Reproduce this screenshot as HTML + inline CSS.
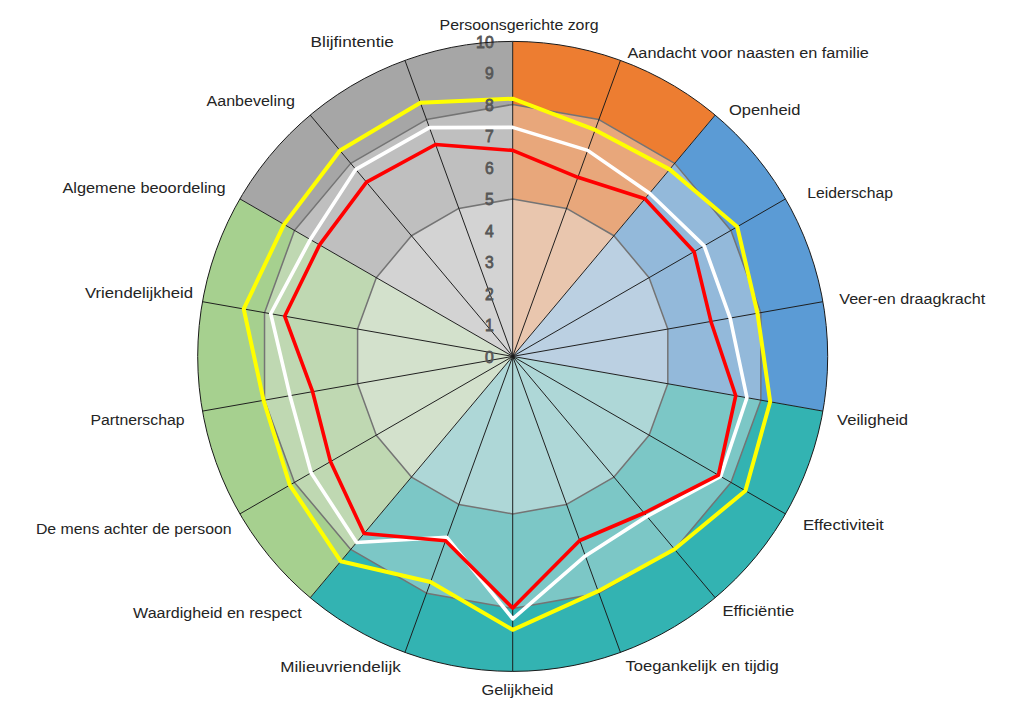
<!DOCTYPE html>
<html><head><meta charset="utf-8"><title>Radar</title>
<style>
html,body{margin:0;padding:0;background:#fff;}
body{width:1017px;height:708px;overflow:hidden;font-family:"Liberation Sans",sans-serif;}
svg{display:block;}
.lab{font-family:"Liberation Sans",sans-serif;font-size:15.3px;fill:#242424;}
.num{font-family:"Liberation Sans",sans-serif;font-size:17.1px;font-weight:normal;fill:#575757;stroke:#575757;stroke-width:0.8px;text-anchor:end;}
</style></head><body>
<svg width="1017" height="708" viewBox="0 0 1017 708">
<rect width="1017" height="708" fill="#ffffff"/>
<path d="M512.7 356.4 L512.7 41.4 A315 315 0 0 1 715.18 115.1 Z" fill="#ED7D31"/>
<path d="M512.7 356.4 L715.18 115.1 A315 315 0 0 1 822.91 411.1 Z" fill="#5B9BD5"/>
<path d="M512.7 356.4 L822.91 411.1 A315 315 0 0 1 310.22 597.7 Z" fill="#33B3B2"/>
<path d="M512.7 356.4 L310.22 597.7 A315 315 0 0 1 239.9 198.9 Z" fill="#A6D08F"/>
<path d="M512.7 356.4 L239.9 198.9 A315 315 0 0 1 512.7 41.4 Z" fill="#A6A6A6"/>
<polygon points="512.7,104.4 598.89,119.6 674.68,163.36 730.94,230.4 760.87,312.64 760.87,400.16 730.94,482.4 674.68,549.44 598.89,593.2 512.7,608.4 426.51,593.2 350.72,549.44 294.46,482.4 264.53,400.16 264.53,312.64 294.46,230.4 350.72,163.36 426.51,119.6" fill="rgba(227,227,227,0.42)" stroke="#747474" stroke-width="1.5" stroke-linejoin="round"/>
<polygon points="512.7,198.9 566.57,208.4 613.94,235.75 649.1,277.65 667.81,329.05 667.81,383.75 649.1,435.15 613.94,477.05 566.57,504.4 512.7,513.9 458.83,504.4 411.46,477.05 376.3,435.15 357.59,383.75 357.59,329.05 376.3,277.65 411.46,235.75 458.83,208.4" fill="rgba(236,236,236,0.4545)" stroke="#747474" stroke-width="1.5" stroke-linejoin="round"/>
<path d="M512.7 356.4L512.7 41.4M512.7 356.4L620.44 60.4M512.7 356.4L715.18 115.1M512.7 356.4L785.5 198.9M512.7 356.4L822.91 301.7M512.7 356.4L822.91 411.1M512.7 356.4L785.5 513.9M512.7 356.4L715.18 597.7M512.7 356.4L620.44 652.4M512.7 356.4L512.7 671.4M512.7 356.4L404.96 652.4M512.7 356.4L310.22 597.7M512.7 356.4L239.9 513.9M512.7 356.4L202.49 411.1M512.7 356.4L202.49 301.7M512.7 356.4L239.9 198.9M512.7 356.4L310.22 115.1M512.7 356.4L404.96 60.4" stroke="#1c1c1c" stroke-width="0.98" fill="none"/>
<polygon points="512.7,98.73 595.12,129.96 669.62,169.39 737.21,226.78 757.46,313.24 770.18,401.8 745.4,490.75 674.48,549.2 598.13,591.13 512.7,629.82 430.6,581.95 340.8,561.27 289.82,485.08 263.6,400.32 243.74,308.98 284.1,224.41 339.99,150.57 420.37,102.73" fill="none" stroke="#FFFF00" stroke-width="4.0" stroke-linejoin="round"/>
<polygon points="512.7,127.39 587.68,150.38 649.58,193.28 704.2,245.83 730.16,318.06 746.91,397.7 720.57,476.41 646.94,516.38 585.31,555.91 512.7,618.79 446.87,537.26 356.59,542.45 311.1,472.79 289.97,395.67 270.73,313.73 310.28,239.53 355.78,169.39 429.42,127.59" fill="none" stroke="#FFFFFF" stroke-width="3.6" stroke-linejoin="round"/>
<polygon points="512.7,150.39 577.88,177.32 644.92,198.83 694.11,251.66 710.93,321.45 735.74,395.73 718.39,475.15 644.11,513.01 579.71,540.51 512.7,608.09 445.58,540.81 364.08,533.52 330.47,461.61 312.61,391.68 284.69,316.2 319.56,244.89 366.51,182.18 435.56,144.46" fill="none" stroke="#FF0000" stroke-width="3.6" stroke-linejoin="round"/>
<text class="num" transform="translate(493.8,362.9) scale(0.92,1)">0</text>
<text class="num" transform="translate(493.8,331.4) scale(0.92,1)">1</text>
<text class="num" transform="translate(493.8,299.9) scale(0.92,1)">2</text>
<text class="num" transform="translate(493.8,268.4) scale(0.92,1)">3</text>
<text class="num" transform="translate(493.8,236.9) scale(0.92,1)">4</text>
<text class="num" transform="translate(493.8,205.4) scale(0.92,1)">5</text>
<text class="num" transform="translate(493.8,173.9) scale(0.92,1)">6</text>
<text class="num" transform="translate(493.8,142.4) scale(0.92,1)">7</text>
<text class="num" transform="translate(493.8,110.9) scale(0.92,1)">8</text>
<text class="num" transform="translate(493.8,79.4) scale(0.92,1)">9</text>
<text class="num" transform="translate(493.8,47.9) scale(0.93,1)">10</text>
<circle cx="512.7" cy="356.4" r="315" fill="none" stroke="#1a1a1a" stroke-width="1"/>
<text class="lab" x="439.6" y="29.6" textLength="159" lengthAdjust="spacingAndGlyphs">Persoonsgerichte zorg</text>
<text class="lab" x="627.5" y="57.6" textLength="241.3" lengthAdjust="spacingAndGlyphs">Aandacht voor naasten en familie</text>
<text class="lab" x="728.9" y="115.2" textLength="71.5" lengthAdjust="spacingAndGlyphs">Openheid</text>
<text class="lab" x="807.3" y="197.7" textLength="85.6" lengthAdjust="spacingAndGlyphs">Leiderschap</text>
<text class="lab" x="839.3" y="304.1" textLength="146" lengthAdjust="spacingAndGlyphs">Veer-en draagkracht</text>
<text class="lab" x="837" y="425.3" textLength="71.1" lengthAdjust="spacingAndGlyphs">Veiligheid</text>
<text class="lab" x="802.9" y="529.9" textLength="80.9" lengthAdjust="spacingAndGlyphs">Effectiviteit</text>
<text class="lab" x="722.4" y="615.9" textLength="71.8" lengthAdjust="spacingAndGlyphs">Efficiëntie</text>
<text class="lab" x="625.4" y="671.4" textLength="153.4" lengthAdjust="spacingAndGlyphs">Toegankelijk en tijdig</text>
<text class="lab" x="481.4" y="695.1" textLength="72" lengthAdjust="spacingAndGlyphs">Gelijkheid</text>
<text class="lab" x="280.3" y="672" textLength="120.4" lengthAdjust="spacingAndGlyphs">Milieuvriendelijk</text>
<text class="lab" x="133.1" y="617.8" textLength="168.7" lengthAdjust="spacingAndGlyphs">Waardigheid en respect</text>
<text class="lab" x="35.9" y="534.4" textLength="195.8" lengthAdjust="spacingAndGlyphs">De mens achter de persoon</text>
<text class="lab" x="90.5" y="424.5" textLength="94" lengthAdjust="spacingAndGlyphs">Partnerschap</text>
<text class="lab" x="85" y="297.5" textLength="108.1" lengthAdjust="spacingAndGlyphs">Vriendelijkheid</text>
<text class="lab" x="62.4" y="192.8" textLength="163.3" lengthAdjust="spacingAndGlyphs">Algemene beoordeling</text>
<text class="lab" x="206.6" y="106.3" textLength="88.2" lengthAdjust="spacingAndGlyphs">Aanbeveling</text>
<text class="lab" x="310.6" y="46.9" textLength="83.3" lengthAdjust="spacingAndGlyphs">Blijfintentie</text>
</svg>
</body></html>
